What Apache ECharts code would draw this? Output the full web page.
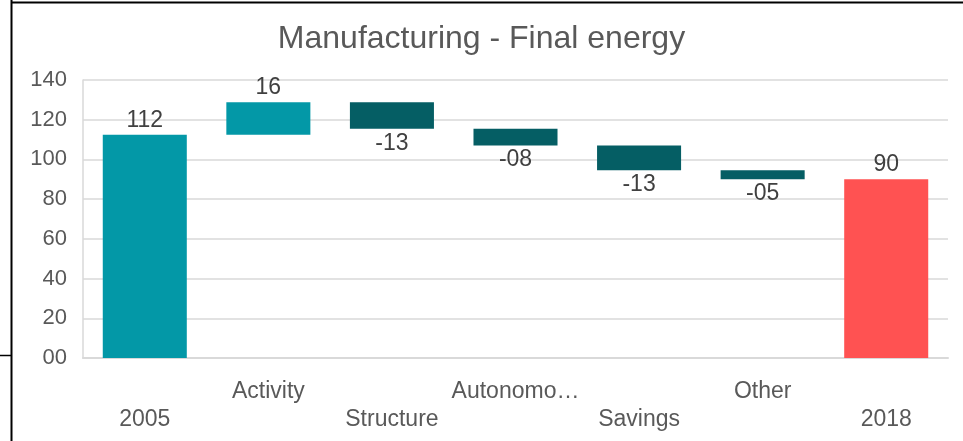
<!DOCTYPE html>
<html>
<head>
<meta charset="utf-8">
<script src="https://cdn.jsdelivr.net/npm/echarts@6/dist/echarts.min.js"></script>
<style>
  html, body { margin: 0; padding: 0; background: #fff; }
  #chart { width: 963px; height: 441px; }
</style>
</head>
<body>
<div id="chart"></div>
<script>
// Waterfall: manufacturing final energy, 2005 -> 2018, by driver
const categories = ['2005', 'Activity', 'Structure', 'Autonomo…', 'Savings', 'Other', '2018'];
// first and last entries are totals, the rest are changes
const values = [112.4, 16.4, -13.4, -8.4, -12.5, -4.5, 90.0];
const yTicks = [0, 20, 40, 60, 80, 100, 120, 140];

const colTotalStart = '#0398A7';
const colIncrease = '#0398A7';
const colDecrease = '#055E64';
const colTotalEnd = '#FF5252';

const lastIdx = values.length - 1;
const baseData = [];
const barData = [];
let running = 0;
values.forEach((v, i) => {
  if (i === 0 || i === lastIdx) {
    baseData.push(0);
    barData.push({ value: v, delta: v, itemStyle: { color: i === 0 ? colTotalStart : colTotalEnd }, label: { position: 'top' } });
    running = v;
  } else {
    const next = running + v;
    baseData.push(Math.min(running, next));
    barData.push({
      value: Math.abs(v), delta: v,
      itemStyle: { color: v >= 0 ? colIncrease : colDecrease },
      label: { position: v >= 0 ? 'top' : 'bottom' }
    });
    running = next;
  }
});

// "00" number format: at least two digits, sign kept
function fmt(v) {
  const r = Math.round(Math.abs(v));
  return (v < 0 ? '-' : '') + String(r).padStart(2, '0');
}

const chart = echarts.init(document.getElementById('chart'), null, { renderer: 'canvas' });
chart.setOption({
  animation: false,
  backgroundColor: '#fff',
  title: {
    text: 'Manufacturing - Final energy',
    left: 'center',
    top: 18,
    textStyle: { fontFamily: 'Liberation Sans', fontSize: 32, fontWeight: 'normal', color: '#595959' }
  },
  grid: { left: 83, right: 15, top: 80, bottom: 83 },
  xAxis: {
    type: 'category',
    data: categories,
    axisLine: { lineStyle: { color: '#D9D9D9', width: 2 } },
    axisTick: { show: false },
    axisLabel: {
      interval: 0,
      margin: 20,
      fontFamily: 'Liberation Sans',
      fontSize: 23,
      color: '#595959',
      lineHeight: 28,
      formatter: (v, i) => (i % 2 === 1 ? v + '\n ' : ' \n' + v)
    }
  },
  yAxis: {
    type: 'value',
    min: 0,
    max: 140,
    interval: 20,
    axisLine: { show: true, lineStyle: { color: '#D9D9D9', width: 1.5 } },
    splitLine: { lineStyle: { color: '#D9D9D9', width: 1.5 } },
    axisLabel: {
      margin: 16,
      fontFamily: 'Liberation Sans',
      fontSize: 22,
      color: '#595959',
      formatter: v => (yTicks.includes(v) ? String(v).padStart(2, '0') : '')
    }
  },
  series: [
    {
      type: 'bar',
      stack: 'wf',
      data: baseData,
      itemStyle: { color: 'transparent' },
      silent: true,
      barCategoryGap: '32%'
    },
    {
      type: 'bar',
      stack: 'wf',
      data: barData,
      barCategoryGap: '32%',
      label: {
        show: true,
        distance: 3,
        fontFamily: 'Liberation Sans',
        fontSize: 23,
        color: '#404040',
        formatter: p => fmt(p.data.delta)
      }
    }
  ],
  graphic: [
    { type: 'line', shape: { x1: 11, y1: 2.5, x2: 963, y2: 2.5 }, style: { stroke: '#000', lineWidth: 2 } },
    { type: 'line', shape: { x1: 11.5, y1: 0, x2: 11.5, y2: 441 }, style: { stroke: '#000', lineWidth: 2 } },
    { type: 'line', shape: { x1: 0, y1: 355.5, x2: 11, y2: 355.5 }, style: { stroke: '#000', lineWidth: 1.5 } }
  ]
});
</script>
</body>
</html>
